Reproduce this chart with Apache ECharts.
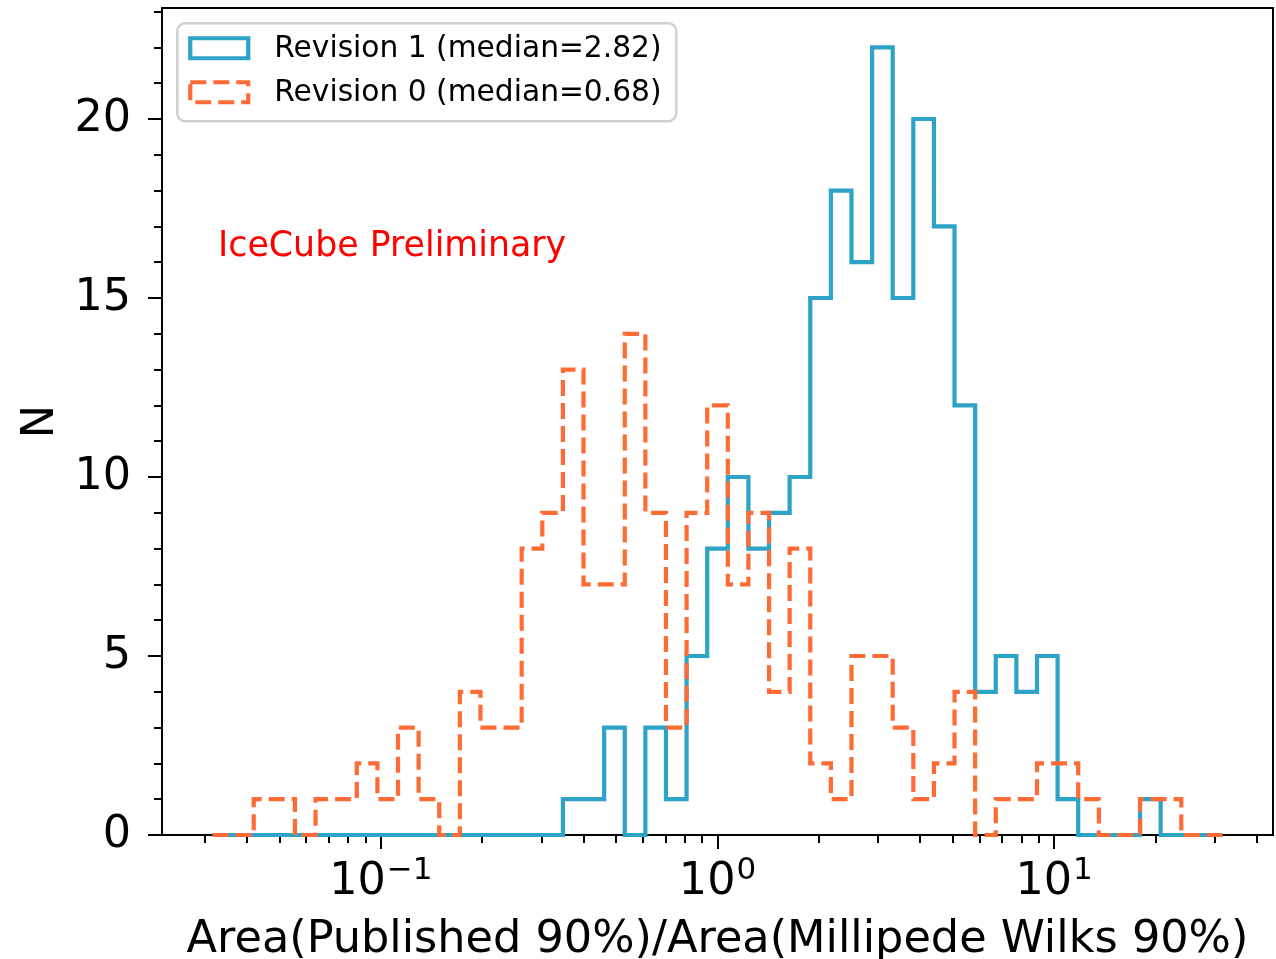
<!DOCTYPE html>
<html>
<head>
<meta charset="utf-8">
<script src="https://cdn.jsdelivr.net/npm/echarts@6/dist/echarts.min.js"></script>
<style>
  html, body { margin: 0; padding: 0; background: #ffffff; }
  #chart { width: 1276px; height: 959px; }
</style>
</head>
<body>
<div id="chart"></div>
<script>
// Histogram binning: 49 log-spaced bins from 10^-1.5 to 10^1.5
const BIN_LOG_MIN = -1.5;
const BIN_LOG_MAX = 1.5;
const BIN_COUNT = 49;

// Counts per bin, Revision 1 (solid blue)
const rev1Counts = [
  0, 0, 0, 0, 0,   0, 0, 0, 0, 0,   0, 0, 0, 0, 0,
  0, 0, 1, 1, 3,   0, 3, 1, 5, 8,   10, 8, 9, 10, 15,
  18, 16, 22, 15, 20,   17, 12, 4, 5, 4,   5, 1, 0, 0, 0,
  1, 0, 0, 0
];

// Counts per bin, Revision 0 (dashed orange)
const rev0Counts = [
  0, 0, 1, 1, 0,   1, 1, 2, 1, 3,   1, 0, 4, 3, 3,
  8, 9, 13, 7, 7,   14, 9, 3, 9, 12,   7, 9, 4, 8, 2,
  1, 5, 5, 3, 1,   2, 4, 0, 1, 1,   2, 2, 1, 0, 0,
  1, 1, 0, 0
];

const seriesNames = ['Revision 1 (median=2.82)', 'Revision 0 (median=0.68)'];

// Axis ticks
const xMajorTicks = [0.1, 1, 10];
const xMinorTicks = [0.03, 0.04, 0.05, 0.06, 0.07, 0.08, 0.09,
                     0.2, 0.3, 0.4, 0.5, 0.6, 0.7, 0.8, 0.9,
                     2, 3, 4, 5, 6, 7, 8, 9,
                     20, 30, 40];
const yMajorTicks = [0, 5, 10, 15, 20];
const yMinorTicks = [1, 2, 3, 4, 6, 7, 8, 9, 11, 12, 13, 14, 16, 17, 18, 19, 21, 22, 23];
const yMax = 23.1;

const xTitle = 'Area(Published 90%)/Area(Millipede Wilks 90%)';
const yTitle = 'N';
const watermark = 'IceCube Preliminary';

const BLUE = '#2ea3c8';
const ORANGE = '#ff6b35';
const FONT = 'DejaVu Sans';

// Bin edges in data units
const binEdges = [];
for (let k = 0; k <= BIN_COUNT; k++) {
  binEdges.push(Math.pow(10, BIN_LOG_MIN + (BIN_LOG_MAX - BIN_LOG_MIN) * k / BIN_COUNT));
}
// Axis range: bin range padded by 5% per side in log space
const span = BIN_LOG_MAX - BIN_LOG_MIN;
const xMin = Math.pow(10, BIN_LOG_MIN - 0.05 * span);
const xMax = Math.pow(10, BIN_LOG_MAX + 0.05 * span);

// Step outline of a histogram: baseline -> bars -> baseline
function stepOutline(counts) {
  const pts = [[binEdges[0], 0]];
  for (let k = 0; k < counts.length; k++) pts.push([binEdges[k], counts[k]]);
  pts.push([binEdges[counts.length], counts[counts.length - 1]]);
  pts.push([binEdges[counts.length], 0]);
  return pts;
}

const SUP = { '-': '\u2212' };
function decadeLabel(v) {
  const e = Math.round(Math.log10(v));
  const s = String(e).split('').map(c => SUP[c] || c).join('');
  return '{b|10}{e|' + s + '}';
}

const chart = echarts.init(document.getElementById('chart'), null, { renderer: 'canvas' });

const axisBlack = { color: '#000', width: 2 };

const option = {
  animation: false,
  backgroundColor: '#ffffff',
  textStyle: { fontFamily: FONT },
  grid: {
    left: 162, right: 3, top: 8, bottom: 124,
    outerBoundsMode: 'none', containLabel: false,
    show: true, borderColor: '#000', borderWidth: 2, backgroundColor: 'transparent'
  },
  xAxis: [
    {
      type: 'log', logBase: 10, min: xMin, max: xMax,
      name: xTitle, nameLocation: 'middle', nameGap: 83,
      nameTextStyle: { fontFamily: FONT, fontSize: 44.6, color: '#000' },
      axisLine: { show: true, onZero: false, lineStyle: axisBlack },
      axisTick: { show: true, inside: false, length: 14, customValues: xMajorTicks, lineStyle: axisBlack },
      axisLabel: {
        show: true, customValues: xMajorTicks, margin: 20, color: '#000',
        formatter: decadeLabel,
        rich: {
          b: { fontFamily: FONT, fontSize: 44.5, color: '#000', lineHeight: 50, verticalAlign: 'bottom' },
          e: { fontFamily: FONT, fontSize: 31, color: '#000', lineHeight: 50, verticalAlign: 'top', padding: [0, 0, 0, 1] }
        }
      },
      splitLine: { show: false },
      minorTick: { show: false }
    },
    {
      type: 'log', logBase: 10, min: xMin, max: xMax, position: 'bottom',
      axisLine: { show: false },
      axisTick: { show: true, inside: false, length: 8, customValues: xMinorTicks, lineStyle: axisBlack },
      axisLabel: { show: false },
      splitLine: { show: false }
    }
  ],
  yAxis: [
    {
      type: 'value', min: 0, max: yMax, interval: 5,
      name: yTitle, nameLocation: 'middle', nameGap: 90, nameRotate: 90,
      nameTextStyle: { fontFamily: FONT, fontSize: 44.5, color: '#000' },
      axisLine: { show: true, onZero: false, lineStyle: axisBlack },
      axisTick: { show: true, inside: false, length: 14, customValues: yMajorTicks, lineStyle: axisBlack },
      axisLabel: { show: true, customValues: yMajorTicks, margin: 31, fontFamily: FONT, fontSize: 44.5, color: '#000' },
      splitLine: { show: false }
    },
    {
      type: 'value', min: 0, max: yMax, position: 'left',
      axisLine: { show: false },
      axisTick: { show: true, inside: false, length: 8, customValues: yMinorTicks, lineStyle: axisBlack },
      axisLabel: { show: false },
      splitLine: { show: false }
    }
  ],
  series: [
    {
      name: seriesNames[0], type: 'line', step: 'end',
      xAxisIndex: 0, yAxisIndex: 0,
      data: stepOutline(rev1Counts),
      symbol: 'none', showSymbol: false, clip: true, z: 3,
      lineStyle: { color: BLUE, width: 4.2, join: 'miter', cap: 'butt' }
    },
    {
      name: seriesNames[1], type: 'line', step: 'end',
      xAxisIndex: 0, yAxisIndex: 0,
      data: stepOutline(rev0Counts),
      symbol: 'none', showSymbol: false, clip: true, z: 4,
      lineStyle: { color: ORANGE, width: 4.2, type: [16, 7], join: 'miter', cap: 'butt' }
    }
  ],
  graphic: [
    {
      type: 'text', left: 218, top: 229, z: 50,
      style: { text: watermark, fill: '#ff0000', font: '34.8px "DejaVu Sans"' }
    },
    {
      type: 'group', left: 176, top: 22, z: 100,
      children: [
        {
          type: 'rect', shape: { x: 0, y: 0, width: 499, height: 98, r: 8 },
          style: { fill: 'rgba(255,255,255,0.85)', stroke: '#d0d0d0', lineWidth: 2.5 }
        },
        {
          type: 'rect', shape: { x: 13, y: 15, width: 58, height: 20 },
          style: { fill: 'none', stroke: BLUE, lineWidth: 4.2 }
        },
        {
          type: 'rect', shape: { x: 13, y: 59, width: 58, height: 20 },
          style: { fill: 'none', stroke: ORANGE, lineWidth: 4.2, lineDash: [16, 7] }
        },
        {
          type: 'text', x: 97, y: 26,
          style: { text: seriesNames[0], fill: '#000', font: '29.7px "DejaVu Sans"', verticalAlign: 'middle' }
        },
        {
          type: 'text', x: 97, y: 70,
          style: { text: seriesNames[1], fill: '#000', font: '29.7px "DejaVu Sans"', verticalAlign: 'middle' }
        }
      ]
    }
  ]
};

chart.setOption(option);
</script>
</body>
</html>
